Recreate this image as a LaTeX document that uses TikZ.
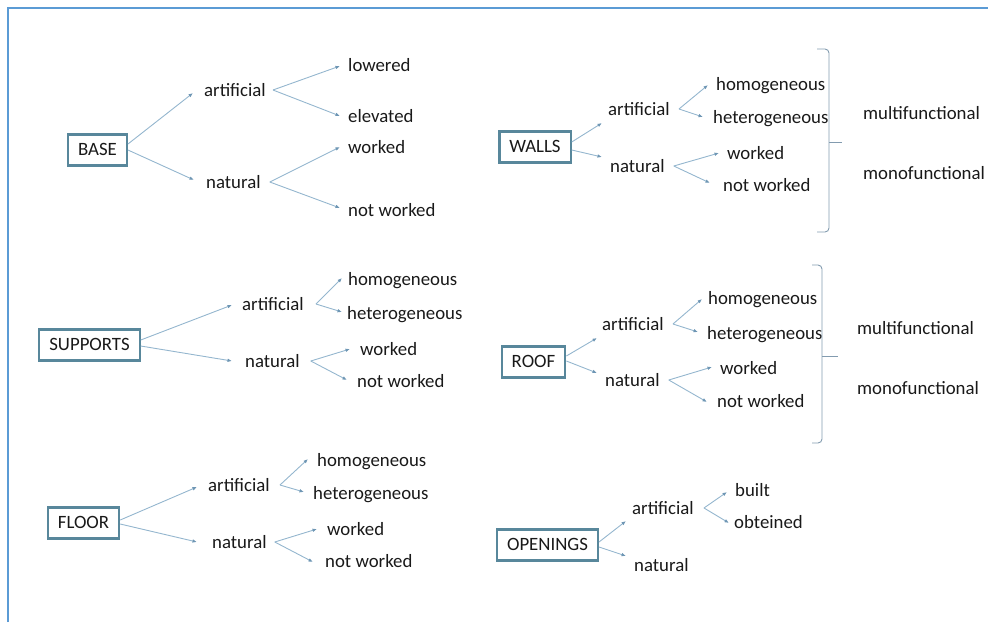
\documentclass[tikz,border=0pt]{standalone}
\usepackage{fontspec}
\setmainfont{Carlito}
\usetikzlibrary{arrows.meta}
\definecolor{frameblue}{RGB}{91,155,213}
\definecolor{boxline}{RGB}{88,135,155}
\definecolor{branchline}{RGB}{148,182,206}
\definecolor{tipcol}{RGB}{110,150,180}
\definecolor{ink}{RGB}{25,25,25}
\definecolor{bracecol}{RGB}{130,155,175}
\tikzset{
  lbl/.style={anchor=west, inner sep=0pt, text height=13pt, text depth=1pt,
              font=\fontsize{18.8}{22}\selectfont, text=ink},
  topic/.style={draw=boxline, line width=2.2pt, fill=white, inner xsep=10pt,
                minimum height=31pt, text height=12pt, text depth=1pt,
                font=\fontsize{18.8}{22}\selectfont, text=ink},
  arr/.style={draw=branchline, line width=0.9pt,
              -{Latex[length=4.5pt,width=3.6pt,fill=tipcol,color=tipcol]}},
  brace/.style={draw=bracecol, line width=0.9pt, rounded corners=4pt}
}
\begin{document}
\begin{tikzpicture}[x=1pt,y=-1pt]
\useasboundingbox (0,0) rectangle (988,622);
% page frame
\draw[frameblue, line width=2pt] (7.5,622) -- (7.5,7.5) -- (988,7.5);

% ---------- BASE ----------
\node[topic] (base) at (97.5,150) {BASE};
\node[lbl] (bart) at (204,90) {artificial};
\node[lbl] (bnat) at (206,182) {natural};
\node[lbl] (blow) at (348,65) {lowered};
\node[lbl] (bele) at (348,116) {elevated};
\node[lbl] (bwor) at (348,147) {worked};
\node[lbl] (bnot) at (348,210) {not worked};
\draw[arr] ([yshift=6pt]base.east) -- ([xshift=-11pt,yshift=-3pt]bart.west);
\draw[arr] (base.east) -- ([xshift=-12pt,yshift=2pt]bnat.west);
\draw[arr] ([xshift=7pt]bart.east) -- ([xshift=-8pt,yshift=-1pt]blow.west);
\draw[arr] ([xshift=7pt]bart.east) -- ([xshift=-8pt]bele.west);
\draw[arr] ([xshift=9pt]bnat.east) -- ([xshift=-8pt]bwor.west);
\draw[arr] ([xshift=9pt]bnat.east) -- ([xshift=-8pt,yshift=2pt]bnot.west);

% ---------- WALLS ----------
\node[topic] (walls) at (535,147) {WALLS};
\node[lbl] (wart) at (608,109) {artificial};
\node[lbl] (wnat) at (610,166) {natural};
\node[lbl] (whom) at (716,84) {homogeneous};
\node[lbl] (whet) at (713,117) {heterogeneous};
\node[lbl] (wwor) at (727,153) {worked};
\node[lbl] (wnot) at (723,185) {not worked};
\node[lbl] (wmul) at (863,113) {multifunctional};
\node[lbl] (wmon) at (863,173) {monofunctional};
\draw[arr] ([yshift=5pt]walls.east) -- ([xshift=-6pt,yshift=-14pt]wart.west);
\draw[arr] ([yshift=-3pt]walls.east) -- ([xshift=-8pt,yshift=9pt]wnat.west);
\draw[arr] ([xshift=9pt]wart.east) -- ([xshift=-8pt,yshift=-1pt]whom.west);
\draw[arr] ([xshift=9pt]wart.east) -- ([xshift=-10pt]whet.west);
\draw[arr] ([xshift=9pt]wnat.east) -- ([xshift=-8pt]wwor.west);
\draw[arr] ([xshift=9pt]wnat.east) -- ([xshift=-13pt,yshift=2pt]wnot.west);
\coordinate (wbt) at (829,49);
\coordinate (wbb) at (829,232);
\draw[brace] (817,49) -- (wbt) -- (wbb) -- (817,232);
\draw[draw=bracecol, line width=0.9pt] (829,142) -- (842,142);

% ---------- SUPPORTS ----------
\node[topic] (supp) at (89.5,345) {SUPPORTS};
\node[lbl] (sart) at (242,304) {artificial};
\node[lbl] (snat) at (245,361) {natural};
\node[lbl] (shom) at (348,279) {homogeneous};
\node[lbl] (shet) at (347,313) {heterogeneous};
\node[lbl] (swor) at (360,349) {worked};
\node[lbl] (snot) at (357,381) {not worked};
\draw[arr] ([yshift=5pt]supp.east) -- ([xshift=-10pt,yshift=-1pt]sart.west);
\draw[arr] ([yshift=-1pt]supp.east) -- ([xshift=-13pt]snat.west);
\draw[arr] ([xshift=12pt]sart.east) -- ([xshift=-6pt,yshift=1pt]shom.west);
\draw[arr] ([xshift=12pt]sart.east) -- ([xshift=-5pt,yshift=1pt]shet.west);
\draw[arr] ([xshift=11pt]snat.east) -- ([xshift=-10pt]swor.west);
\draw[arr] ([xshift=11pt]snat.east) -- ([xshift=-10pt,yshift=1pt]snot.west);

% ---------- ROOF ----------
\node[topic] (roof) at (533.5,362) {ROOF};
\node[lbl] (rart) at (602,324) {artificial};
\node[lbl] (rnat) at (605,380) {natural};
\node[lbl] (rhom) at (708,298) {homogeneous};
\node[lbl] (rhet) at (707,333) {heterogeneous};
\node[lbl] (rwor) at (720,368) {worked};
\node[lbl] (rnot) at (717,401) {not worked};
\node[lbl] (rmul) at (857,328) {multifunctional};
\node[lbl] (rmon) at (857,388) {monofunctional};
\draw[arr] ([yshift=6pt]roof.east) -- ([xshift=-5pt,yshift=-14pt]rart.west);
\draw[arr] ([yshift=1pt]roof.east) -- ([xshift=-8pt,yshift=7pt]rnat.west);
\draw[arr] ([xshift=9pt]rart.east) -- ([xshift=-6pt,yshift=-1pt]rhom.west);
\draw[arr] ([xshift=9pt]rart.east) -- ([xshift=-9pt,yshift=1pt]rhet.west);
\draw[arr] ([xshift=9pt]rnat.east) -- ([xshift=-8pt,yshift=1pt]rwor.west);
\draw[arr] ([xshift=9pt]rnat.east) -- ([xshift=-10pt,yshift=-1pt]rnot.west);
\coordinate (rbt) at (822,265);
\coordinate (rbb) at (822,443);
\draw[brace] (812,265) -- (rbt) -- (rbb) -- (812,443);
\draw[draw=bracecol, line width=0.9pt] (822,356) -- (838,356);

% ---------- FLOOR ----------
\node[topic] (floor) at (83.5,523) {FLOOR};
\node[lbl] (fart) at (208,485) {artificial};
\node[lbl] (fnat) at (212,542) {natural};
\node[lbl] (fhom) at (317,460) {homogeneous};
\node[lbl] (fhet) at (313,493) {heterogeneous};
\node[lbl] (fwor) at (327,529) {worked};
\node[lbl] (fnot) at (325,561) {not worked};
\draw[arr] ([yshift=3pt]floor.east) -- ([xshift=-11pt,yshift=-2pt]fart.west);
\draw[arr] ([yshift=-1pt]floor.east) -- ([xshift=-15pt]fnat.west);
\draw[arr] ([xshift=10pt]fart.east) -- ([xshift=-9pt,yshift=1pt]fhom.west);
\draw[arr] ([xshift=10pt]fart.east) -- ([xshift=-9pt,yshift=1pt]fhet.west);
\draw[arr] ([xshift=8pt]fnat.east) -- ([xshift=-10pt]fwor.west);
\draw[arr] ([xshift=8pt]fnat.east) -- ([xshift=-12pt,yshift=-1pt]fnot.west);

% ---------- OPENINGS ----------
\node[topic] (open) at (547.5,545) {OPENINGS};
\node[lbl] (oart) at (632,508) {artificial};
\node[lbl] (onat) at (634,565) {natural};
\node[lbl] (obui) at (735,490) {built};
\node[lbl] (oobt) at (734,522) {obteined};
\draw[arr] ([yshift=3pt]open.east) -- ([xshift=-6pt,yshift=-13pt]oart.west);
\draw[arr] ([yshift=-2pt]open.east) -- ([xshift=-8pt,yshift=9pt]onat.west);
\draw[arr] ([xshift=10pt]oart.east) -- ([xshift=-8pt,yshift=-2pt]obui.west);
\draw[arr] ([xshift=10pt]oart.east) -- ([xshift=-5pt,yshift=-1pt]oobt.west);
\end{tikzpicture}
\end{document}
